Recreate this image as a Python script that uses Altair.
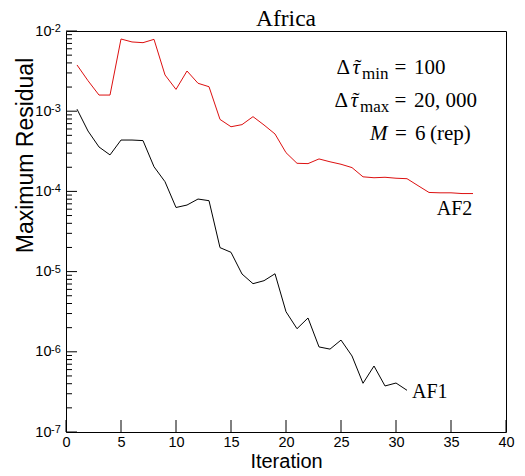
import altair as alt
import pandas as pd

# ---- data ----
af1_iter = list(range(1, 32))
af1_res = [1.06e-3, 5.66e-4, 3.58e-4, 2.85e-4, 4.37e-4, 4.37e-4, 4.30e-4, 2.03e-4,
           1.32e-4, 6.3e-5, 6.76e-5, 8.03e-5, 7.66e-5, 1.99e-5, 1.74e-5, 9.33e-6,
           7.07e-6, 7.7e-6, 9.4e-6, 3.16e-6, 1.94e-6, 2.64e-6, 1.15e-6, 1.08e-6,
           1.40e-6, 8.87e-7, 4.05e-7, 6.65e-7, 3.75e-7, 4.08e-7, 3.31e-7]

af2_iter = list(range(1, 38))
af2_res = [3.77e-3, 2.40e-3, 1.59e-3, 1.59e-3, 7.95e-3, 7.30e-3, 7.15e-3, 7.87e-3,
           2.83e-3, 1.87e-3, 3.17e-3, 2.23e-3, 2.02e-3, 7.9e-4, 6.4e-4, 6.8e-4,
           8.55e-4, 6.73e-4, 5.2e-4, 3.04e-4, 2.24e-4, 2.22e-4, 2.54e-4, 2.34e-4,
           2.18e-4, 1.98e-4, 1.52e-4, 1.48e-4, 1.50e-4, 1.46e-4, 1.44e-4, 1.18e-4,
           9.7e-5, 9.6e-5, 9.6e-5, 9.4e-5, 9.4e-5]

x_ticks = [0, 5, 10, 15, 20, 25, 30, 35, 40]
y_decades = [1e-7, 1e-6, 1e-5, 1e-4, 1e-3, 1e-2]
y_exponents = ["-7", "-6", "-5", "-4", "-3", "-2"]
y_minor = [m * d for d in [1e-7, 1e-6, 1e-5, 1e-4, 1e-3] for m in range(2, 10)]

series_names = ["AF1", "AF2"]
series_colors = ["#000000", "#dd1010"]

W, H = 440, 401

lines_df = pd.DataFrame({
    "Iteration": af1_iter + af2_iter,
    "Residual": af1_res + af2_res,
    "series": ["AF1"] * len(af1_iter) + ["AF2"] * len(af2_iter),
})

xscale = alt.Scale(domain=[0, 40], nice=False, zero=False)
yscale = alt.Scale(type="log", domain=[1e-7, 1e-2], nice=False)

SANS = "Liberation Sans"
SERIF = "Liberation Serif"

x_axis = alt.Axis(values=x_ticks, title="Iteration", grid=False, domain=False,
                  ticks=False, tickSize=0, labelPadding=3, labelFont=SANS,
                  labelFontSize=14.5, labelColor="black", labelFlush=False,
                  labelOverlap=False, titleFont=SANS, titleFontSize=20,
                  titleFontWeight="normal", titleColor="black",
                  titleX=W / 2, titleY=35.5, titleAlign="center",
                  titleBaseline="alphabetic")
y_axis = alt.Axis(values=y_decades, labelExpr="'10'", title="Maximum Residual",
                  grid=False, domain=False, ticks=False, tickSize=0,
                  labelPadding=15, labelFont=SANS, labelFontSize=14.5,
                  labelColor="black", labelFlush=False, labelOverlap=False,
                  titleFont=SANS, titleFontSize=23, titleFontWeight="normal",
                  titleColor="black", titleX=-34, titleY=124, titleAngle=270,
                  titleAlign="center", titleBaseline="alphabetic")

lines = alt.Chart(lines_df).mark_line(strokeWidth=1, clip=True).encode(
    x=alt.X("Iteration:Q", scale=xscale, axis=x_axis),
    y=alt.Y("Residual:Q", scale=yscale, axis=y_axis),
    color=alt.Color("series:N", scale=alt.Scale(domain=series_names, range=series_colors),
                    legend=None),
    detail="series:N",
)

# inward ticks
xt = alt.Chart(pd.DataFrame({"Iteration": x_ticks})).mark_rule(color="black", strokeWidth=1).encode(
    x=alt.X("Iteration:Q", scale=xscale, axis=x_axis), y=alt.value(H), y2=alt.value(H - 12))
yt_major = alt.Chart(pd.DataFrame({"Residual": y_decades})).mark_rule(color="black", strokeWidth=1).encode(
    y=alt.Y("Residual:Q", scale=yscale, axis=y_axis), x=alt.value(0), x2=alt.value(11))
yt_minor = alt.Chart(pd.DataFrame({"Residual": y_minor})).mark_rule(color="black", strokeWidth=1).encode(
    y=alt.Y("Residual:Q", scale=yscale, axis=y_axis), x=alt.value(0), x2=alt.value(6))

# exponents of the y labels
exps = alt.Chart(pd.DataFrame({"Residual": y_decades, "e": y_exponents})).mark_text(
    align="left", baseline="alphabetic", font=SANS, fontSize=11, color="black", dy=1
).encode(y=alt.Y("Residual:Q", scale=yscale, axis=y_axis), x=alt.value(-15), text="e:N")


def txt(s, x, y, size=21, style="normal", align="left"):
    return alt.Chart(pd.DataFrame({"t": [s]})).mark_text(
        align=align, baseline="alphabetic", font=SERIF, fontSize=size,
        fontStyle=style, color="black"
    ).encode(x=alt.value(x), y=alt.value(y), text="t:N")


ann = [
    txt("Africa", W / 2, -5, size=23.5, align="center"),
    # line 1
    txt("Δ", 270.5, 43), txt("τ", 286.5, 43, style="italic"),
    txt("\u02dc", 292, 43, align="center"),
    txt("min", 296, 48, size=17), txt("=", 328.5, 43), txt("100", 348, 43),
    # line 2
    txt("Δ", 268.5, 76), txt("τ", 284.5, 76, style="italic"),
    txt("\u02dc", 290, 76, align="center"),
    txt("max", 294, 81, size=17), txt("=", 328.5, 76), txt("20, 000", 348, 76),
    # line 3
    txt("M", 304, 109, style="italic"), txt("=", 329, 109), txt("6", 349, 109),
    txt("(rep)", 364, 109),
    # series labels
    txt("AF2", 370.7, 184, size=20),
    txt("AF1", 346, 367, size=20),
]

chart = alt.layer(lines, xt, yt_major, yt_minor, exps, *ann).properties(
    width=W, height=H,
    autosize=alt.AutoSizeParams(type="none"),
    padding={"left": 58, "top": 23, "right": 11, "bottom": 36},
).configure_view(stroke="black", strokeWidth=1)

chart.save("out.html", embed_options={"renderer": "svg", "actions": False})
